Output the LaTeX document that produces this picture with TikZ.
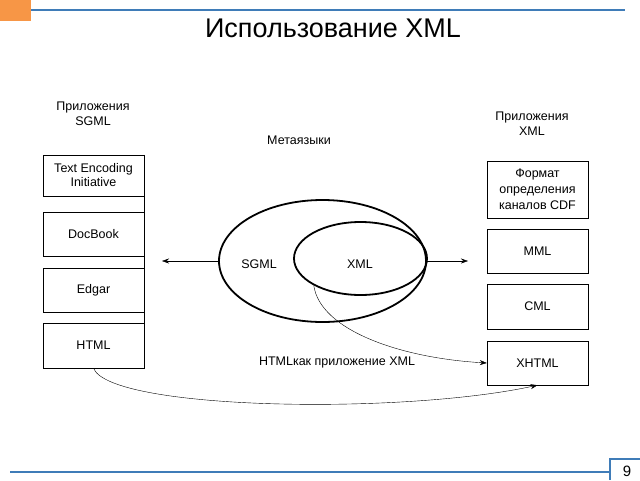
\documentclass[tikz,border=0pt]{standalone}
\usepackage{fontspec}
\setmainfont{Liberation Sans}
\usetikzlibrary{shapes.geometric,arrows.meta}
\definecolor{slideorange}{HTML}{F79646}
\definecolor{slideblue}{HTML}{3F7CB8}

\begin{document}
\begin{tikzpicture}[x=1pt,y=-1pt,>={Stealth[length=7pt,width=5pt]},
    every node/.style={font=\fontsize{12.5}{15}\selectfont},
    appbox/.style={draw, minimum width=101pt, inner sep=0pt, align=center},
    meta/.style={draw, ellipse, inner sep=0pt, line width=1.8pt},
    rule/.style={slideblue, line width=1.5pt}]
    \useasboundingbox (0,0) rectangle (640,480);

    % header and footer
    \fill[slideorange](0,0)rectangle(31,21);
    \draw[rule](31,10)--(625,10);
    \node[font=\fontsize{27}{32}\selectfont](title)at(333,28){Использование XML};
    \draw[rule](10,472)--(610,472);
    \draw[rule](610,480)--(610,459)--(640,459);
    \node[font=\fontsize{15}{18}\selectfont](page)at(627,471){9};

    % SGML applications
    \node[align=center](sgmlapps)at(93,114){Приложения\\SGML};
    \node[appbox, minimum height=41pt, font=\fontsize{12.5}{14}\selectfont](tei)at(93.5,175.5){Text Encoding\\Initiative};
    \node[appbox, minimum height=44pt](docbook)at(93.5,234){DocBook};
    \node[appbox, minimum height=44pt](edgar)at(93.5,290){Edgar};
    \node[appbox, minimum height=45pt](html)at(93.5,345.5){HTML};
    \draw(tei.north east)--(html.south east);

    % XML applications
    \node[align=center](xmlapps)at(532,124){Приложения\\XML};
    \node[appbox, minimum height=57pt, font=\fontsize{12.5}{16}\selectfont](cdf)at(537.5,189.5){Формат\\определения\\каналов CDF};
    \node[appbox, minimum height=44pt](mml)at(537.5,251){MML};
    \node[appbox, minimum height=45pt](cml)at(537.5,306.5){CML};
    \node[appbox, minimum height=44pt](xhtml)at(537.5,363){XHTML};

    % metalanguages
    \node(metalang)at(299,140){Метаязыки};
    \node[meta, minimum width=207pt, minimum height=122pt](sgml)at(322.5,261){};
    \node[meta, minimum width=133pt, minimum height=73pt](xml)at(360.5,258.5){};
    \node(sgmltxt)at(259,264){SGML};
    \node(xmltxt)at(360,264){XML};

    \coordinate(leftend)at(162,261);
    \coordinate(rightend)at(468,261);
    \draw[->](sgml.west)--(leftend);
    \draw[->](sgml.east)--(rightend);

    \draw[->](xml.210)..controls(320,330)and(400,358)..(xhtml.west);
    \draw[->](html.south)..controls(110,410)and(400,415)..(xhtml.south);
    \node(htmlasxml)at(337,362){HTMLкак приложение XML};
\end{tikzpicture}
\end{document}
